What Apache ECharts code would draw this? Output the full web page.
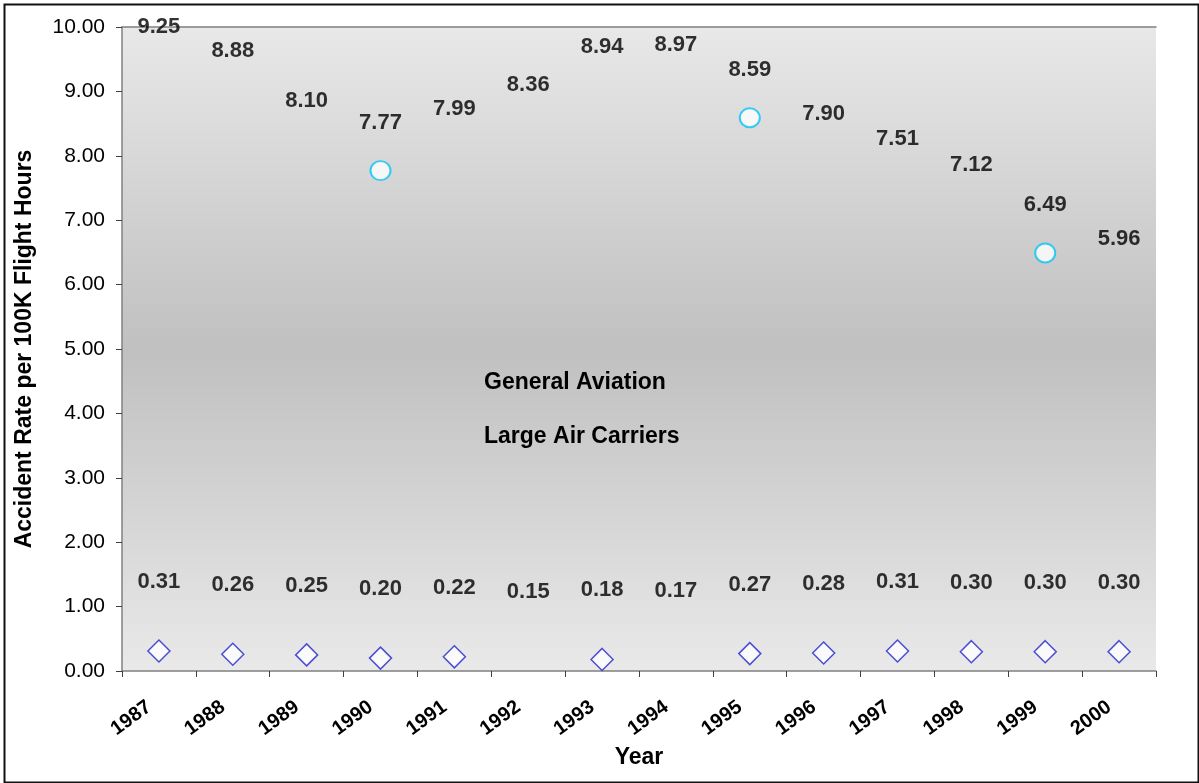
<!DOCTYPE html>
<html>
<head>
<meta charset="utf-8">
<title>Accident Rate per 100K Flight Hours</title>
<script src="https://cdn.jsdelivr.net/npm/echarts@6/dist/echarts.min.js"></script>
<style>
	html, body { margin: 0; padding: 0; background: #fff; }
	#chartBox { width: 1199px; height: 783px; }
</style>
</head>
<body>
<div id="chartBox"></div>
<script>
	// data
	var years = ['1987', '1988', '1989', '1990', '1991', '1992', '1993', '1994', '1995', '1996', '1997', '1998', '1999', '2000'];
	var generalAviation = [9.25, 8.88, 8.10, 7.77, 7.99, 8.36, 8.94, 8.97, 8.59, 7.90, 7.51, 7.12, 6.49, 5.96];
	var largeAirCarriers = [0.31, 0.26, 0.25, 0.20, 0.22, 0.15, 0.18, 0.17, 0.27, 0.28, 0.31, 0.30, 0.30, 0.30];
	// which points show a marker
	var gaMarkedYears = ['1990', '1995', '1999'];
	var lacUnmarkedYears = ['1992', '1994'];
	var yTicks = [0, 1, 2, 3, 4, 5, 6, 7, 8, 9, 10];

	var fontName = '"Liberation Sans", Arial, sans-serif';

	var gaData = generalAviation.map(function(v, i) {
		var marked = gaMarkedYears.indexOf(years[i]) >= 0;
		return { value: v, symbolSize: marked ? [20, 19] : 0 };
	});
	var lacData = largeAirCarriers.map(function(v, i) {
		var hidden = lacUnmarkedYears.indexOf(years[i]) >= 0;
		return { value: v, symbolSize: hidden ? 0 : 22 };
	});

	var myChart = echarts.init(document.getElementById('chartBox'));

	var option = {
		animation: false,
		textStyle: { fontFamily: fontName },
		grid: {
			left: 122,
			top: 27,
			right: 43,
			bottom: 112,
			containLabel: false,
			outerBoundsMode: 'none',
			show: true,
			borderWidth: 0,
			backgroundColor: new echarts.graphic.LinearGradient(0, 0, 0, 1, [
				{ offset: 0, color: '#e8e8e8' },
				{ offset: 0.5, color: '#c0c0c0' },
				{ offset: 1, color: '#e9e9e9' }
			])
		},
		xAxis: [{
				type: 'category',
				data: years,
				boundaryGap: true,
				axisLine: { lineStyle: { color: '#808080', width: 1.5 } },
				axisTick: { show: true, inside: false, length: 6, interval: 0, lineStyle: { color: '#404040' } },
				axisLabel: {
					interval: 0,
					rotate: 36,
					margin: 27,
					padding: [0, 12, 0, 0],
					color: '#000',
					fontSize: 20,
					fontWeight: 'bold',
					fontFamily: fontName
				},
				name: 'Year',
				nameLocation: 'middle',
				nameGap: 74,
				nameTextStyle: { color: '#000', fontSize: 23, fontWeight: 'bold', fontFamily: fontName }
			},
			{
				// top edge of the plot area
				type: 'category',
				data: years,
				position: 'top',
				axisLine: { lineStyle: { color: '#808080', width: 1.5 } },
				axisTick: { show: false },
				axisLabel: { show: false }
			}
		],
		yAxis: {
			type: 'value',
			min: yTicks[0],
			max: yTicks[yTicks.length - 1],
			interval: 1,
			splitLine: { show: false },
			axisLine: { show: true, lineStyle: { color: '#808080', width: 1.5 } },
			axisTick: { show: true, inside: false, length: 6, lineStyle: { color: '#404040' } },
			axisLabel: {
				margin: 17,
				color: '#000',
				fontSize: 21,
				fontFamily: fontName,
				formatter: function(v) { return v.toFixed(2); }
			},
			name: 'Accident Rate per 100K Flight Hours',
			nameLocation: 'middle',
			nameGap: 86,
			nameTextStyle: { color: '#000', fontSize: 23, fontWeight: 'bold', fontFamily: fontName }
		},
		series: [{
				name: 'General Aviation',
				type: 'scatter',
				symbol: 'circle',
				itemStyle: { color: '#ffffff', borderColor: '#08c4f6', borderWidth: 2 },
				label: {
					show: true,
					position: 'inside',
					offset: [0, -48],
					color: '#000',
					fontSize: 22,
					fontWeight: 'bold',
					fontFamily: fontName,
					formatter: function(p) { return p.value.toFixed(2); }
				},
				data: gaData
			},
			{
				name: 'Large Air Carriers',
				type: 'scatter',
				symbol: 'diamond',
				itemStyle: { color: '#ffffff', borderColor: '#2424cc', borderWidth: 1.5 },
				label: {
					show: true,
					position: 'inside',
					offset: [0, -69],
					color: '#000',
					fontSize: 22,
					fontWeight: 'bold',
					fontFamily: fontName,
					formatter: function(p) { return p.value.toFixed(2); }
				},
				data: lacData
			}
		],
		graphic: [{
				type: 'rect',
				left: 2,
				top: 2,
				shape: { width: 1194, height: 778 },
				style: { fill: 'none', stroke: '#111', lineWidth: 2 },
				silent: true
			},
			{
				type: 'text',
				left: 484,
				top: 371,
				style: { text: 'General Aviation', fill: '#000', font: 'bold 23px ' + fontName }
			},
			{
				type: 'text',
				left: 484,
				top: 425,
				style: { text: 'Large Air Carriers', fill: '#000', font: 'bold 23px ' + fontName }
			}
		]
	};

	myChart.setOption(option);
	window.onresize = function() {
		myChart.resize();
	};
</script>
</body>
</html>
